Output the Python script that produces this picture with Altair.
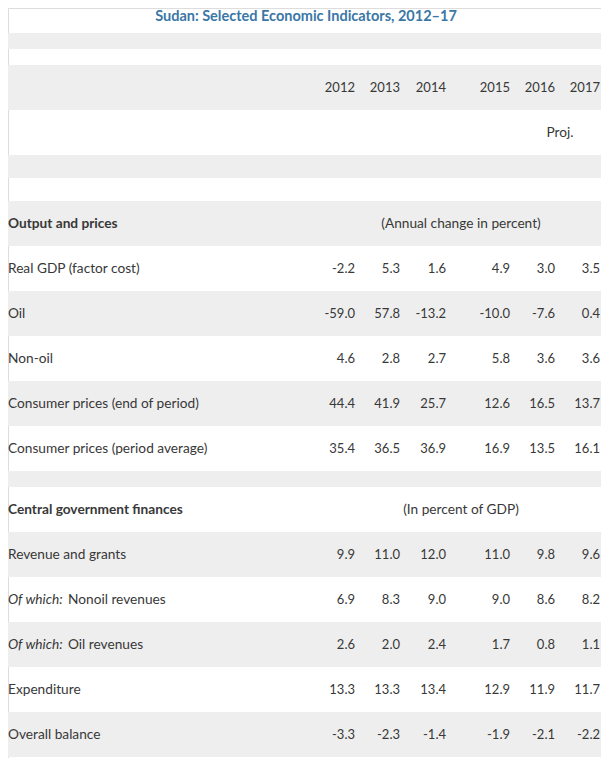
import altair as alt
import pandas as pd

# ---------------- data ----------------
title_text = "Sudan: Selected Economic Indicators, 2012–17"
years = ["2012", "2013", "2014", "2015", "2016", "2017"]
proj_label = "Proj."

section1 = "Output and prices"
section1_unit = "(Annual change in percent)"
section1_labels = ["Real GDP (factor cost)", "Oil", "Non-oil",
                   "Consumer prices (end of period)", "Consumer prices (period average)"]
real_gdp = [-2.2, 5.3, 1.6, 4.9, 3.0, 3.5]
oil = [-59.0, 57.8, -13.2, -10.0, -7.6, 0.4]
non_oil = [4.6, 2.8, 2.7, 5.8, 3.6, 3.6]
cpi_end = [44.4, 41.9, 25.7, 12.6, 16.5, 13.7]
cpi_avg = [35.4, 36.5, 36.9, 16.9, 13.5, 16.1]

section2 = "Central government finances"
section2_unit = "(In percent of GDP)"
section2_italic = ["", "Of which:", "Of which:", "", ""]
section2_labels = ["Revenue and grants", "Nonoil revenues", "Oil revenues",
                   "Expenditure", "Overall balance"]
revenue = [9.9, 11.0, 12.0, 11.0, 9.8, 9.6]
nonoil_rev = [6.9, 8.3, 9.0, 9.0, 8.6, 8.2]
oil_rev = [2.6, 2.0, 2.4, 1.7, 0.8, 1.1]
expenditure = [13.3, 13.3, 13.4, 12.9, 11.9, 11.7]
balance = [-3.3, -2.3, -1.4, -1.9, -2.1, -2.2]

section1_values = [real_gdp, oil, non_oil, cpi_end, cpi_avg]
section2_values = [revenue, nonoil_rev, oil_rev, expenditure, balance]

# ---------------- layout (pixels) ----------------
W, H = 593, 750
TOP = 25
ROW = 45
col_x = [347, 392, 438, 502, 547, 592]
unit_x = 453
proj_x = 552
italic_dx = 60

layout = [("spacer", 16), ("spacer", 16), ("years", ROW), ("proj", ROW),
          ("spacer", 23), ("spacer", 23), ("sec1", ROW)]
layout += [("row1", ROW)] * 5
layout += [("spacer", 16), ("sec2", ROW)]
layout += [("row2", ROW)] * 5

bands, left_reg, left_bold, left_ital, left_after, right_vals, centered = [], [], [], [], [], [], []
y = TOP
i1 = i2 = 0
for idx, (kind, h) in enumerate(layout):
    y0, y1 = y, y + h
    yc = (y0 + y1) / 2
    if idx % 2 == 0:
        bands.append({"x0": 0, "x1": W, "y0": y0, "y1": y1})
    if kind == "years":
        for j, yr in enumerate(years):
            right_vals.append({"x": col_x[j], "y": yc, "t": yr})
    elif kind == "proj":
        centered.append({"x": proj_x, "y": yc, "t": proj_label})
    elif kind == "sec1":
        left_bold.append({"x": 0, "y": yc, "t": section1})
        centered.append({"x": unit_x, "y": yc, "t": section1_unit})
    elif kind == "sec2":
        left_bold.append({"x": 0, "y": yc, "t": section2})
        centered.append({"x": unit_x, "y": yc, "t": section2_unit})
    elif kind == "row1":
        left_reg.append({"x": 0, "y": yc, "t": section1_labels[i1]})
        for j, v in enumerate(section1_values[i1]):
            right_vals.append({"x": col_x[j], "y": yc, "t": f"{v:.1f}"})
        i1 += 1
    elif kind == "row2":
        if section2_italic[i2]:
            left_ital.append({"x": 0, "y": yc, "t": section2_italic[i2]})
            left_after.append({"x": 0, "y": yc, "t": section2_labels[i2]})
        else:
            left_reg.append({"x": 0, "y": yc, "t": section2_labels[i2]})
        for j, v in enumerate(section2_values[i2]):
            right_vals.append({"x": col_x[j], "y": yc, "t": f"{v:.1f}"})
        i2 += 1
    y = y1

FONT = "Lato"
TXT = "#383838"
LABEL_SIZE = 13.7
xs = alt.Scale(domain=[0, W], nice=False, zero=False)
ys = alt.Scale(domain=[0, H], nice=False, zero=False, reverse=True)

band_layer = alt.Chart(pd.DataFrame(bands)).mark_rect(color="#eeeeee").encode(
    x=alt.X("x0:Q", scale=xs, axis=None), x2="x1:Q",
    y=alt.Y("y0:Q", scale=ys, axis=None), y2="y1:Q")


def text_layer(rows, align="left", weight="normal", style="normal", dx=0, color=TXT,
               size=LABEL_SIZE, baseline="middle"):
    return alt.Chart(pd.DataFrame(rows)).mark_text(
        align=align, baseline=baseline, font=FONT, fontSize=size, fontWeight=weight,
        fontStyle=style, color=color, dx=dx).encode(
        x=alt.X("x:Q", scale=xs, axis=None),
        y=alt.Y("y:Q", scale=ys, axis=None),
        text="t:N")


title_layer = text_layer([{"x": 298, "y": 9, "t": title_text}], align="center", weight="bold",
                         color="#3a77a6", size=14.5, baseline="middle")

chart = alt.layer(
    band_layer,
    text_layer(left_reg),
    text_layer(left_bold, weight="bold"),
    text_layer(left_ital, style="italic"),
    text_layer(left_after, dx=italic_dx),
    text_layer(right_vals, align="right", size=13),
    text_layer(centered, align="center"),
    title_layer,
).properties(width=W, height=H).configure_view(stroke=None).configure(padding=0)

chart.save("out.html", embed_options={"renderer": "svg", "actions": False})
